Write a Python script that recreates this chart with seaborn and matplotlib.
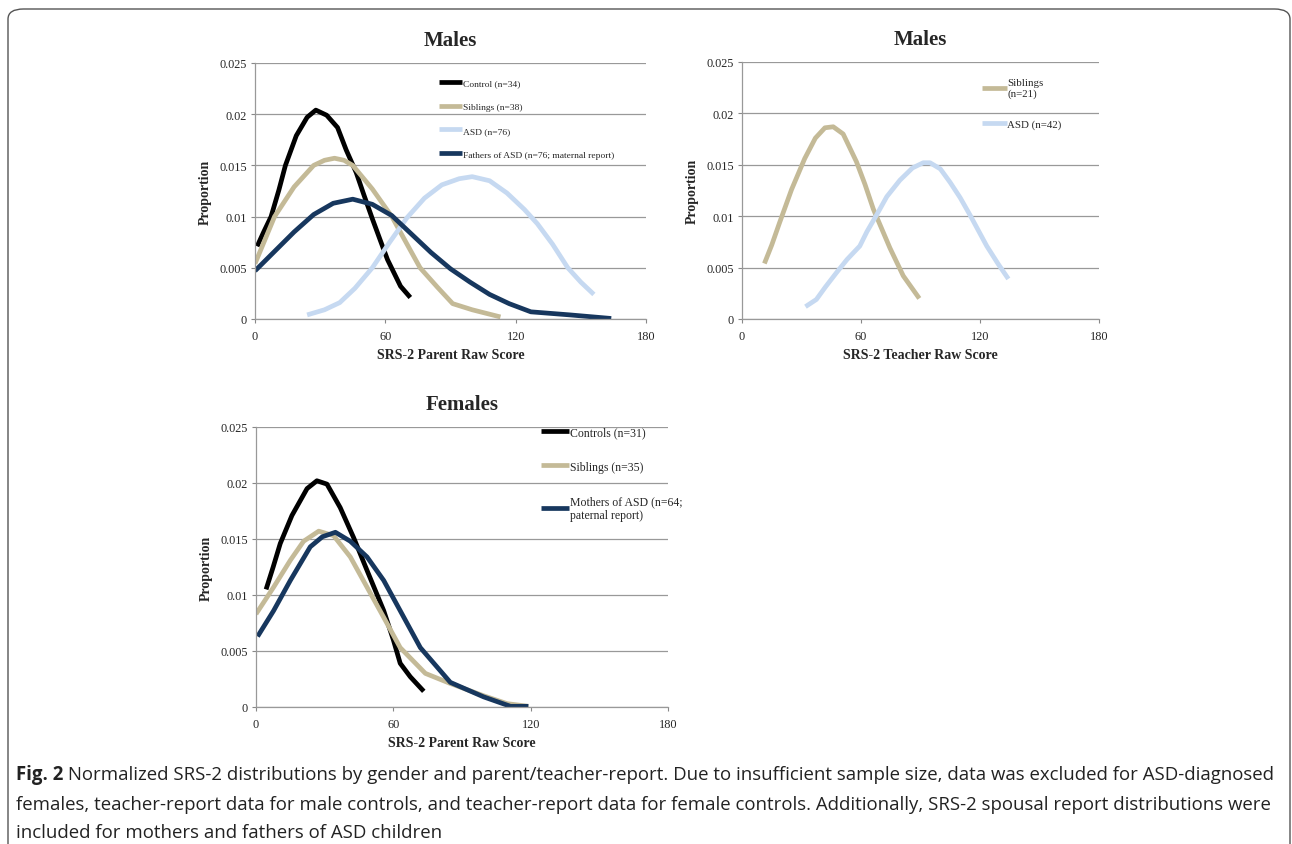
import numpy as np
import pandas as pd
import matplotlib
matplotlib.use("Agg")
import matplotlib.pyplot as plt
import seaborn as sns
from matplotlib.patches import FancyBboxPatch

sns.set_theme(style="white")
plt.rcParams["font.family"] = ["Liberation Serif", "DejaVu Serif"]

# colours
BLACK = "#000000"
TAN = "#C4BA97"
LIGHT = "#C6D9F1"
NAVY = "#17375E"

# ---- Males, parent report ----
m_ctrl_x = [1, 4, 7.4, 11, 14, 19, 24, 28, 33, 38, 42, 46.6, 50, 54, 58, 61, 64, 67, 71.5]
m_ctrl_y = [0.0071, 0.0085, 0.0100, 0.0126, 0.0150, 0.0179, 0.0197, 0.0204, 0.0199, 0.0187,
            0.0165, 0.0143, 0.0122, 0.0098, 0.0075, 0.0058, 0.0045, 0.0032, 0.0021]
m_sib_x = [0, 9, 18, 27, 32, 36.6, 41, 45, 54, 63, 70, 76, 84, 91, 100, 113]
m_sib_y = [0.0054, 0.0100, 0.0129, 0.0150, 0.0155, 0.0157, 0.0155, 0.0150, 0.0127, 0.0100,
           0.0073, 0.0050, 0.0031, 0.0015, 0.0009, 0.0002]
m_asd_x = [24, 32, 39, 46, 54, 62, 70, 78, 86, 94, 100, 108, 116, 124, 130, 137, 144, 150, 156]
m_asd_y = [0.0004, 0.0009, 0.0016, 0.0030, 0.0050, 0.0075, 0.0099, 0.0118, 0.0131, 0.0137,
           0.0139, 0.0135, 0.0123, 0.0107, 0.0093, 0.0073, 0.0050, 0.0036, 0.0024]
m_fath_x = [0, 9, 18, 27, 36, 45, 54, 63, 72, 81, 90, 99, 108, 117, 127, 145, 164]
m_fath_y = [0.0047, 0.0066, 0.0085, 0.0102, 0.0113, 0.0117, 0.0112, 0.0101, 0.0083, 0.0065,
            0.0049, 0.0036, 0.0024, 0.0015, 0.0007, 0.0004, 0.00005]

# ---- Males, teacher report ----
t_sib_x = [11.3, 15, 19, 25, 31.6, 37, 41.8, 46, 51, 57.7, 62, 66.2, 74.6, 81.3, 89.4]
t_sib_y = [0.0054, 0.0072, 0.0094, 0.0126, 0.0156, 0.0176, 0.0186, 0.0187, 0.0180, 0.0153,
           0.0131, 0.0107, 0.0069, 0.0042, 0.0020]
t_asd_x = [32, 37.5, 42, 47.6, 53, 59.4, 63, 67.8, 73, 79.6, 86, 91.4, 94.8, 100, 104.9, 110,
           115, 123.4, 129, 134.3]
t_asd_y = [0.0012, 0.0019, 0.0031, 0.0045, 0.0058, 0.0071, 0.0085, 0.0101, 0.0119, 0.0135,
           0.0147, 0.0152, 0.0152, 0.0146, 0.0133, 0.0118, 0.0101, 0.0071, 0.0054, 0.0039]

# ---- Females, parent report ----
f_ctrl_x = [4.4, 7.5, 10.6, 15.7, 22.3, 26.6, 31, 36.8, 42.7, 48.5, 55.8, 60, 63, 67.4, 73.3]
f_ctrl_y = [0.0105, 0.0125, 0.0146, 0.0171, 0.0195, 0.0202, 0.0199, 0.0178, 0.0151, 0.0122,
            0.0086, 0.0060, 0.0039, 0.0027, 0.0014]
f_sib_x = [0, 7.7, 15, 20.8, 27.4, 33.9, 41.2, 48.5, 55.8, 63, 74, 84.9, 99.5, 109.7, 119]
f_sib_y = [0.0083, 0.0107, 0.0131, 0.0148, 0.0157, 0.0153, 0.0134, 0.0107, 0.0080, 0.0053,
           0.0030, 0.0021, 0.0010, 0.0003, 0.00006]
f_moth_x = [0.7, 7.7, 15, 23.7, 29, 34.7, 41.2, 48.5, 55.8, 63, 71.8, 84.9, 99.5, 111.2, 119]
f_moth_y = [0.0063, 0.0086, 0.0113, 0.0143, 0.0152, 0.0156, 0.0148, 0.0134, 0.0113, 0.0086,
            0.0053, 0.0022, 0.0009, 0.00006, 0.00006]

x_ticks = [0, 60, 120, 180]
y_ticks = [0, 0.005, 0.01, 0.015, 0.02, 0.025]
y_tick_labels = ["0", "0.005", "0.01", "0.015", "0.02", "0.025"]

caption_bold = "Fig. 2"
caption_lines = [
    " Normalized SRS-2 distributions by gender and parent/teacher-report. Due to insufficient sample size, data was excluded for ASD-diagnosed",
    "females, teacher-report data for male controls, and teacher-report data for female controls. Additionally, SRS-2 spousal report distributions were",
    "included for mothers and fathers of ASD children",
]

W, H = 1292, 845
fig = plt.figure(figsize=(W / 100, H / 100), dpi=100)


def add_axes(left, top, right, bottom):
    return fig.add_axes([left / W, 1 - bottom / H, (right - left) / W, (bottom - top) / H])


def style_axes(ax, title, xlabel):
    ax.set_xlim(0, 180)
    ax.set_ylim(0, 0.025)
    ax.set_xticks(x_ticks)
    ax.set_yticks(y_ticks)
    ax.set_yticklabels(y_tick_labels)
    ax.tick_params(labelsize=8.8, length=3, width=0.8, color="#888888", pad=3,
                   bottom=True, left=True)
    ax.tick_params(axis="x", pad=5)
    ax.grid(axis="y", color="#999999", lw=0.9)
    ax.grid(axis="x", visible=False)
    for s in ["top", "right"]:
        ax.spines[s].set_visible(False)
    for s in ["left", "bottom"]:
        ax.spines[s].set_color("#999999")
        ax.spines[s].set_linewidth(0.9)
    ax.set_title(title, fontsize=15, fontweight="bold", pad=13)
    ax.set_xlabel(xlabel, fontsize=10, fontweight="bold", labelpad=4)
    ax.set_ylabel("Proportion", fontsize=10, fontweight="bold", labelpad=5)


def draw(ax, xs, ys, color, label):
    d = pd.DataFrame({"x": xs, "y": ys})
    sns.lineplot(data=d, x="x", y="y", ax=ax, color=color, lw=3.4, sort=False,
                 estimator=None, label=label, solid_capstyle="butt")


# panel 1
ax1 = add_axes(255, 64, 646, 320)
draw(ax1, m_ctrl_x, m_ctrl_y, BLACK, "Control (n=34)")
draw(ax1, m_sib_x, m_sib_y, TAN, "Siblings (n=38)")
draw(ax1, m_asd_x, m_asd_y, LIGHT, "ASD (n=76)")
draw(ax1, m_fath_x, m_fath_y, NAVY, "Fathers of ASD (n=76; maternal report)")
style_axes(ax1, "Males", "SRS-2 Parent Raw Score")
ax1.legend(loc="upper left", bbox_to_anchor=(0.46, 0.955), frameon=False, fontsize=6.8,
           handlelength=2.5, handletextpad=0.05, labelspacing=1.62, borderaxespad=0)

# panel 2
ax2 = add_axes(742, 63, 1099, 320)
draw(ax2, t_sib_x, t_sib_y, TAN, "Siblings\n(n=21)")
draw(ax2, t_asd_x, t_asd_y, LIGHT, "ASD (n=42)")
style_axes(ax2, "Males", "SRS-2 Teacher Raw Score")
ax2.legend(loc="upper left", bbox_to_anchor=(0.66, 0.955), frameon=False, fontsize=7.8,
           handlelength=2.3, handletextpad=0.05, labelspacing=2.0, borderaxespad=0)

# panel 3
ax3 = add_axes(256, 428, 668, 708)
draw(ax3, f_ctrl_x, f_ctrl_y, BLACK, "Controls (n=31)")
draw(ax3, f_sib_x, f_sib_y, TAN, "Siblings (n=35)")
draw(ax3, f_moth_x, f_moth_y, NAVY, "Mothers of ASD (n=64;\npaternal report)")
style_axes(ax3, "Females", "SRS-2 Parent Raw Score")
ax3.legend(loc="upper left", bbox_to_anchor=(0.68, 1.02), frameon=False, fontsize=8.5,
           handlelength=2.4, handletextpad=0.05, labelspacing=1.9, borderaxespad=0)

# border
fig.patches.append(FancyBboxPatch((8 / W, -0.05), (W - 10) / W, 1.05 - 10 / H,
                                  boxstyle="round,pad=0,rounding_size=0.012",
                                  transform=fig.transFigure, fill=False,
                                  ec="#555555", lw=1.0))

# caption
cap_font = ["Open Sans", "DejaVu Sans"]
cap_size = 13.4
t = fig.text(16 / W, 1 - 775 / H, caption_bold, fontsize=cap_size, fontweight="bold",
             family=cap_font, va="center", ha="left", color="#222222")
fig.canvas.draw()
bb = t.get_window_extent()
fig.text(bb.x1 / W, 1 - 775 / H, caption_lines[0], fontsize=cap_size, family=cap_font,
         va="center", ha="left", color="#222222")
fig.text(16 / W, 1 - 805 / H, caption_lines[1], fontsize=cap_size, family=cap_font,
         va="center", ha="left", color="#222222")
fig.text(16 / W, 1 - 833 / H, caption_lines[2], fontsize=cap_size, family=cap_font,
         va="center", ha="left", color="#222222")

fig.savefig("out.png", dpi=100)
